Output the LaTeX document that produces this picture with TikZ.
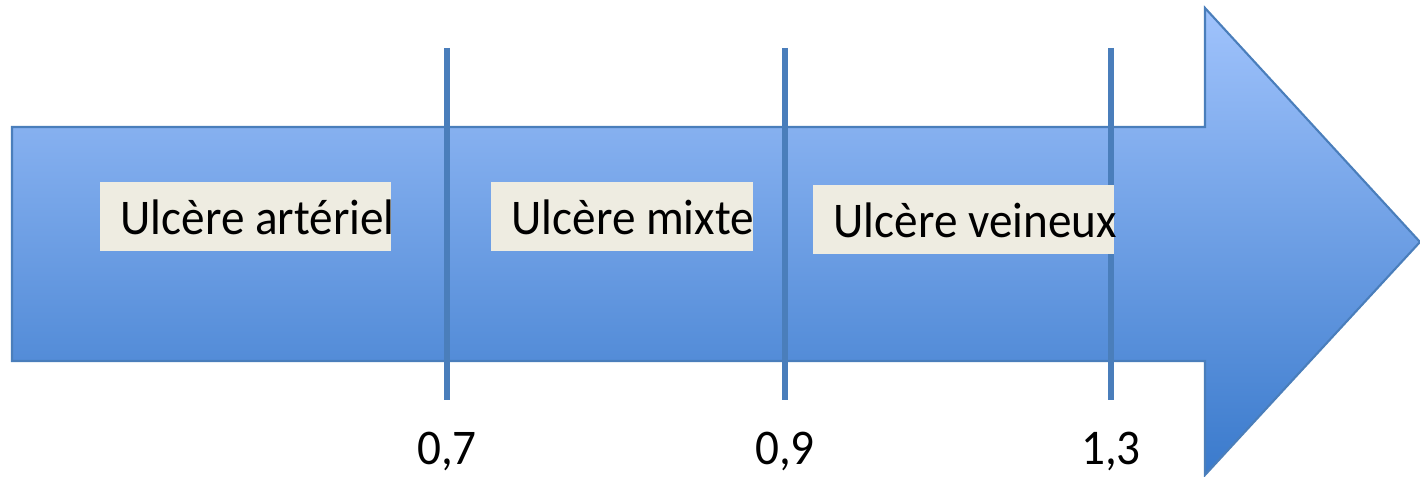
\documentclass[tikz,border=0pt]{standalone}
\usepackage{fontspec}
\setmainfont{Carlito}
\usepackage{tikz}
\usetikzlibrary{positioning}
\definecolor{arrowtop}{RGB}{160,195,252}
\definecolor{arrowbot}{RGB}{58,122,204}
\definecolor{edgeblue}{RGB}{74,126,187}
\definecolor{paper}{RGB}{238,236,225}

\begin{document}
\begin{tikzpicture}[x=0.01cm,y=-0.01cm,
    labelbox/.style={fill=paper,inner sep=0,anchor=north west},
    labeltext/.style={inner sep=0,anchor=base west,xscale=0.945,transform shape,
        font=\fontsize{14.2}{17}\selectfont},
    cutline/.style={draw=edgeblue,line width=1.45pt}]
    \useasboundingbox (0,0) rectangle (1420,477);
    % big arrow
    \draw[edgeblue,line width=0.6pt,top color=arrowtop,bottom color=arrowbot]
        (12,127) -- (1205,127) -- (1205,8) -- (1420,242) -- (1205,475)
        -- (1205,361) -- (12,361) -- cycle;
    % thresholds
    \foreach \x/\v/\n in {447/{0,7}/a,785/{0,9}/b,1111/{1,3}/c}{
        \coordinate (top\n) at (\x,48);
        \coordinate (bot\n) at (\x,400);
        \draw[cutline] (top\n) -- (bot\n);
        \node[labeltext,anchor=base] (val\n) at (\x,465) {\v};
    }
    % boxes
    \node[labelbox,minimum width=2.91cm,minimum height=0.69cm] (boxA) at (99,181) {};
    \node[labelbox,minimum width=2.62cm,minimum height=0.69cm] (boxM) at (490,181) {};
    \node[labelbox,minimum width=3.01cm,minimum height=0.69cm] (boxV) at (812,184) {};
    \node[labeltext] (ulcA) at (120,235) {Ulcère artériel};
    \node[labeltext] (ulcM) at (511,235) {Ulcère mixte};
    \node[labeltext] (ulcV) at (833,238) {Ulcère veineux};
\end{tikzpicture}
\end{document}
